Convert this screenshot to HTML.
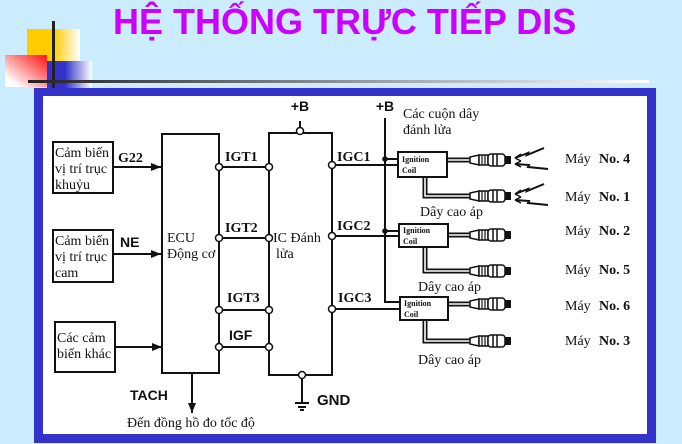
<!DOCTYPE html>
<html><head><meta charset="utf-8"><style>
html,body{margin:0;padding:0;background:#CCECFF;}
svg{display:block;}
.s{font-family:"Liberation Serif","DejaVu Serif",serif;font-size:14px;fill:#111;}
.b{font-family:"Liberation Serif","DejaVu Serif",serif;font-size:14px;font-weight:bold;fill:#111;}
.h{font-family:"Liberation Sans","DejaVu Sans",sans-serif;font-size:14px;font-weight:bold;fill:#111;}
.c{font-family:"Liberation Serif",serif;font-size:8px;font-weight:bold;fill:#111;}
</style></head><body>
<svg width="682" height="444" viewBox="0 0 682 444" xmlns="http://www.w3.org/2000/svg">
<defs>
<linearGradient id="gy" x1="0" y1="0" x2="1" y2="0"><stop offset="0.5" stop-color="#FFCC00"/><stop offset="1" stop-color="#FFFFFF"/></linearGradient>
<linearGradient id="gb" x1="0" y1="0" x2="1" y2="0"><stop offset="0.4" stop-color="#3333CC"/><stop offset="1" stop-color="#FFFFFF"/></linearGradient>
<linearGradient id="gp" x1="1" y1="0" x2="0" y2="1"><stop offset="0" stop-color="#FF1010"/><stop offset="0.85" stop-color="#FFFFFF"/></linearGradient>
<linearGradient id="gl" x1="0" y1="0" x2="1" y2="0"><stop offset="0" stop-color="#222222"/><stop offset="1" stop-color="#FFFFFF"/></linearGradient>
<g id="plug">
<path d="M0,-3 L9,-5 L9,5 L0,3 Z" fill="#fff" stroke="#111" stroke-width="1.5"/>
<rect x="9" y="-5" width="9" height="10" fill="#fff" stroke="#111" stroke-width="1.5"/>
<line x1="12" y1="-5" x2="12" y2="5" stroke="#111" stroke-width="1.2"/>
<line x1="15" y1="-5" x2="15" y2="5" stroke="#111" stroke-width="1.2"/>
<rect x="18" y="-6" width="17" height="12" rx="3" fill="#fff" stroke="#111" stroke-width="1.5"/>
<line x1="23" y1="-6" x2="23" y2="6" stroke="#111" stroke-width="1.5"/>
<line x1="27" y1="-6" x2="27" y2="6" stroke="#111" stroke-width="1.5"/>
<rect x="35" y="-4" width="6" height="8" fill="#111"/>
</g>
<g id="spark" fill="none" stroke="#111" stroke-width="2">
<polyline points="2,-2 15,-7 14,-5 31,-12"/>
<polyline points="2,4 16,5 15,7 35,9"/>
<path d="M2,-2 L8,-6 M2,-2 L8,1" stroke-width="1.5"/>
<path d="M2,4 L8,1 M2,4 L8,7" stroke-width="1.5"/>
</g>
<marker id="ah" markerWidth="10" markerHeight="8" refX="10" refY="4" orient="auto" markerUnits="userSpaceOnUse"><path d="M0,0 L10,4 L0,8 Z" fill="#111"/></marker>
</defs>

<!-- decoration -->
<rect x="27" y="29" width="53" height="40" fill="url(#gy)"/>
<rect x="47" y="61" width="45" height="27" fill="url(#gb)"/>
<rect x="5" y="55" width="42" height="32" fill="url(#gp)"/>
<rect x="52" y="21" width="3" height="67" fill="#222"/>
<rect x="28" y="80" width="621" height="3" fill="url(#gl)"/>

<text x="113" y="34" style="font-family:'Liberation Sans',Arial,sans-serif;font-size:36px;font-weight:bold;fill:#CC00FF;">HỆ THỐNG TRỰC TIẾP DIS</text>

<!-- frame -->
<rect x="34" y="88" width="622" height="355" fill="#3333CC"/>
<rect x="43" y="96" width="604" height="338" fill="#FFFFFF"/>

<g stroke="#111" stroke-width="2" fill="none">
<!-- sensor boxes -->
<rect x="53" y="142" width="60" height="51"/>
<rect x="53" y="230" width="60" height="52"/>
<rect x="55" y="322" width="60" height="50"/>
<line x1="113" y1="167" x2="161" y2="167" marker-end="url(#ah)"/>
<line x1="113" y1="254" x2="161" y2="254" marker-end="url(#ah)"/>
<line x1="115" y1="347" x2="162" y2="347" marker-end="url(#ah)"/>
<!-- ECU -->
<rect x="162" y="134" width="57" height="239"/>
<line x1="192" y1="373" x2="192" y2="413" marker-end="url(#ah)"/>
<!-- IC -->
<rect x="269" y="133" width="63" height="242"/>
<line x1="300" y1="121" x2="300" y2="133"/>
<line x1="302" y1="375" x2="302" y2="403"/>
<line x1="295" y1="403" x2="309" y2="403"/>
<line x1="298" y1="407" x2="306" y2="407"/>
<line x1="300" y1="410" x2="304" y2="410"/>
<!-- IGT lines -->
<line x1="219" y1="167" x2="269" y2="167"/>
<line x1="219" y1="238" x2="269" y2="238"/>
<line x1="219" y1="310" x2="269" y2="310"/>
<line x1="219" y1="347" x2="269" y2="347"/>
<!-- IGC lines -->
<line x1="332" y1="165" x2="398" y2="165"/>
<line x1="332" y1="236" x2="399" y2="236"/>
<line x1="332" y1="309" x2="400" y2="309"/>
<!-- +B line -->
<polyline points="385,118 385,302 400,302"/>
<line x1="385" y1="159" x2="398" y2="159"/>
<line x1="385" y1="231" x2="399" y2="231"/>
<!-- coils -->
<rect x="398" y="152" width="49" height="25"/>
<rect x="399" y="224" width="49" height="23"/>
<rect x="400" y="297" width="48" height="23"/>
</g>

<!-- HT leads (double lines) -->
<g fill="none" stroke-linejoin="miter">
<g stroke="#111" stroke-width="5">
<line x1="447" y1="160" x2="471" y2="160"/>
<polyline points="425,177 425,196 471,196"/>
<line x1="448" y1="235" x2="471" y2="235"/>
<polyline points="425,247 425,271 471,271"/>
<line x1="448" y1="304" x2="471" y2="304"/>
<polyline points="425,320 425,341 471,341"/>
</g>
<g stroke="#fff" stroke-width="1.6">
<line x1="448" y1="160" x2="471" y2="160"/>
<polyline points="425,178 425,196 471,196"/>
<line x1="449" y1="235" x2="471" y2="235"/>
<polyline points="425,248 425,271 471,271"/>
<line x1="449" y1="304" x2="471" y2="304"/>
<polyline points="425,321 425,341 471,341"/>
</g>
</g>
<use href="#plug" x="470" y="160"/>
<use href="#plug" x="470" y="196"/>
<use href="#plug" x="470" y="235"/>
<use href="#plug" x="470" y="271"/>
<use href="#plug" x="470" y="304"/>
<use href="#plug" x="470" y="341"/>
<use href="#spark" x="513" y="160"/>
<use href="#spark" x="513" y="196"/>

<!-- circles -->
<g fill="#fff" stroke="#111" stroke-width="1.5">
<circle cx="219" cy="167" r="3.5"/><circle cx="269" cy="167" r="3.5"/>
<circle cx="219" cy="238" r="3.5"/><circle cx="269" cy="238" r="3.5"/>
<circle cx="219" cy="310" r="3.5"/><circle cx="269" cy="310" r="3.5"/>
<circle cx="219" cy="347" r="3.5"/><circle cx="269" cy="347" r="3.5"/>
<circle cx="332" cy="165" r="3.5"/><circle cx="332" cy="236" r="3.5"/><circle cx="332" cy="309" r="3.5"/>
<circle cx="300" cy="131" r="3.5"/>
<circle cx="302" cy="375" r="3.5"/>
</g>
<circle cx="385" cy="159" r="2.8" fill="#111"/>
<circle cx="385" cy="231" r="2.8" fill="#111"/>

<!-- texts -->
<text class="s" x="55" y="157">Cảm biến</text>
<text class="s" x="55" y="173">vị trí trục</text>
<text class="s" x="55" y="189">khuỷu</text>
<text class="s" x="55" y="245">Cảm biến</text>
<text class="s" x="55" y="261">vị trí trục</text>
<text class="s" x="55" y="277">cam</text>
<text class="s" x="57" y="342">Các cảm</text>
<text class="s" x="57" y="358">biến khác</text>
<text class="b" x="118" y="162">G22</text>
<text class="h" x="120" y="247">NE</text>
<text class="s" x="167" y="242">ECU</text>
<text class="s" x="167" y="258">Động cơ</text>
<text class="s" x="273" y="242">IC Đánh</text>
<text class="s" x="276" y="258">lửa</text>
<text class="b" x="225" y="161">IGT1</text>
<text class="b" x="225" y="232">IGT2</text>
<text class="b" x="227" y="302">IGT3</text>
<text class="h" x="229" y="340">IGF</text>
<text class="b" x="337" y="161">IGC1</text>
<text class="b" x="337" y="230">IGC2</text>
<text class="b" x="338" y="302">IGC3</text>
<text class="h" x="300" y="111" text-anchor="middle">+B</text>
<text class="h" x="385" y="111" text-anchor="middle">+B</text>
<text class="h" x="130" y="400">TACH</text>
<text class="h" x="317" y="405" style="font-size:15px">GND</text>
<text class="s" x="127" y="427">Đến đồng hồ đo tốc độ</text>
<text class="s" x="403" y="118">Các cuộn dây</text>
<text class="s" x="403" y="134">đánh lửa</text>
<text class="c" x="402" y="162">Ignition</text>
<text class="c" x="402" y="173">Coil</text>
<text class="c" x="403" y="233">Ignition</text>
<text class="c" x="403" y="244">Coil</text>
<text class="c" x="404" y="306">Ignition</text>
<text class="c" x="404" y="317">Coil</text>
<text class="s" x="420" y="216">Dây cao áp</text>
<text class="s" x="418" y="291">Dây cao áp</text>
<text class="s" x="418" y="364">Dây cao áp</text>
<g>
<text class="s" x="565" y="163">Máy</text><text class="b" x="599" y="163">No.  4</text>
<text class="s" x="565" y="201">Máy</text><text class="b" x="599" y="201">No.  1</text>
<text class="s" x="565" y="235">Máy</text><text class="b" x="599" y="235">No.  2</text>
<text class="s" x="565" y="274">Máy</text><text class="b" x="599" y="274">No.  5</text>
<text class="s" x="565" y="310">Máy</text><text class="b" x="599" y="310">No.  6</text>
<text class="s" x="565" y="345">Máy</text><text class="b" x="599" y="345">No.  3</text>
</g>
</svg>
</body></html>
